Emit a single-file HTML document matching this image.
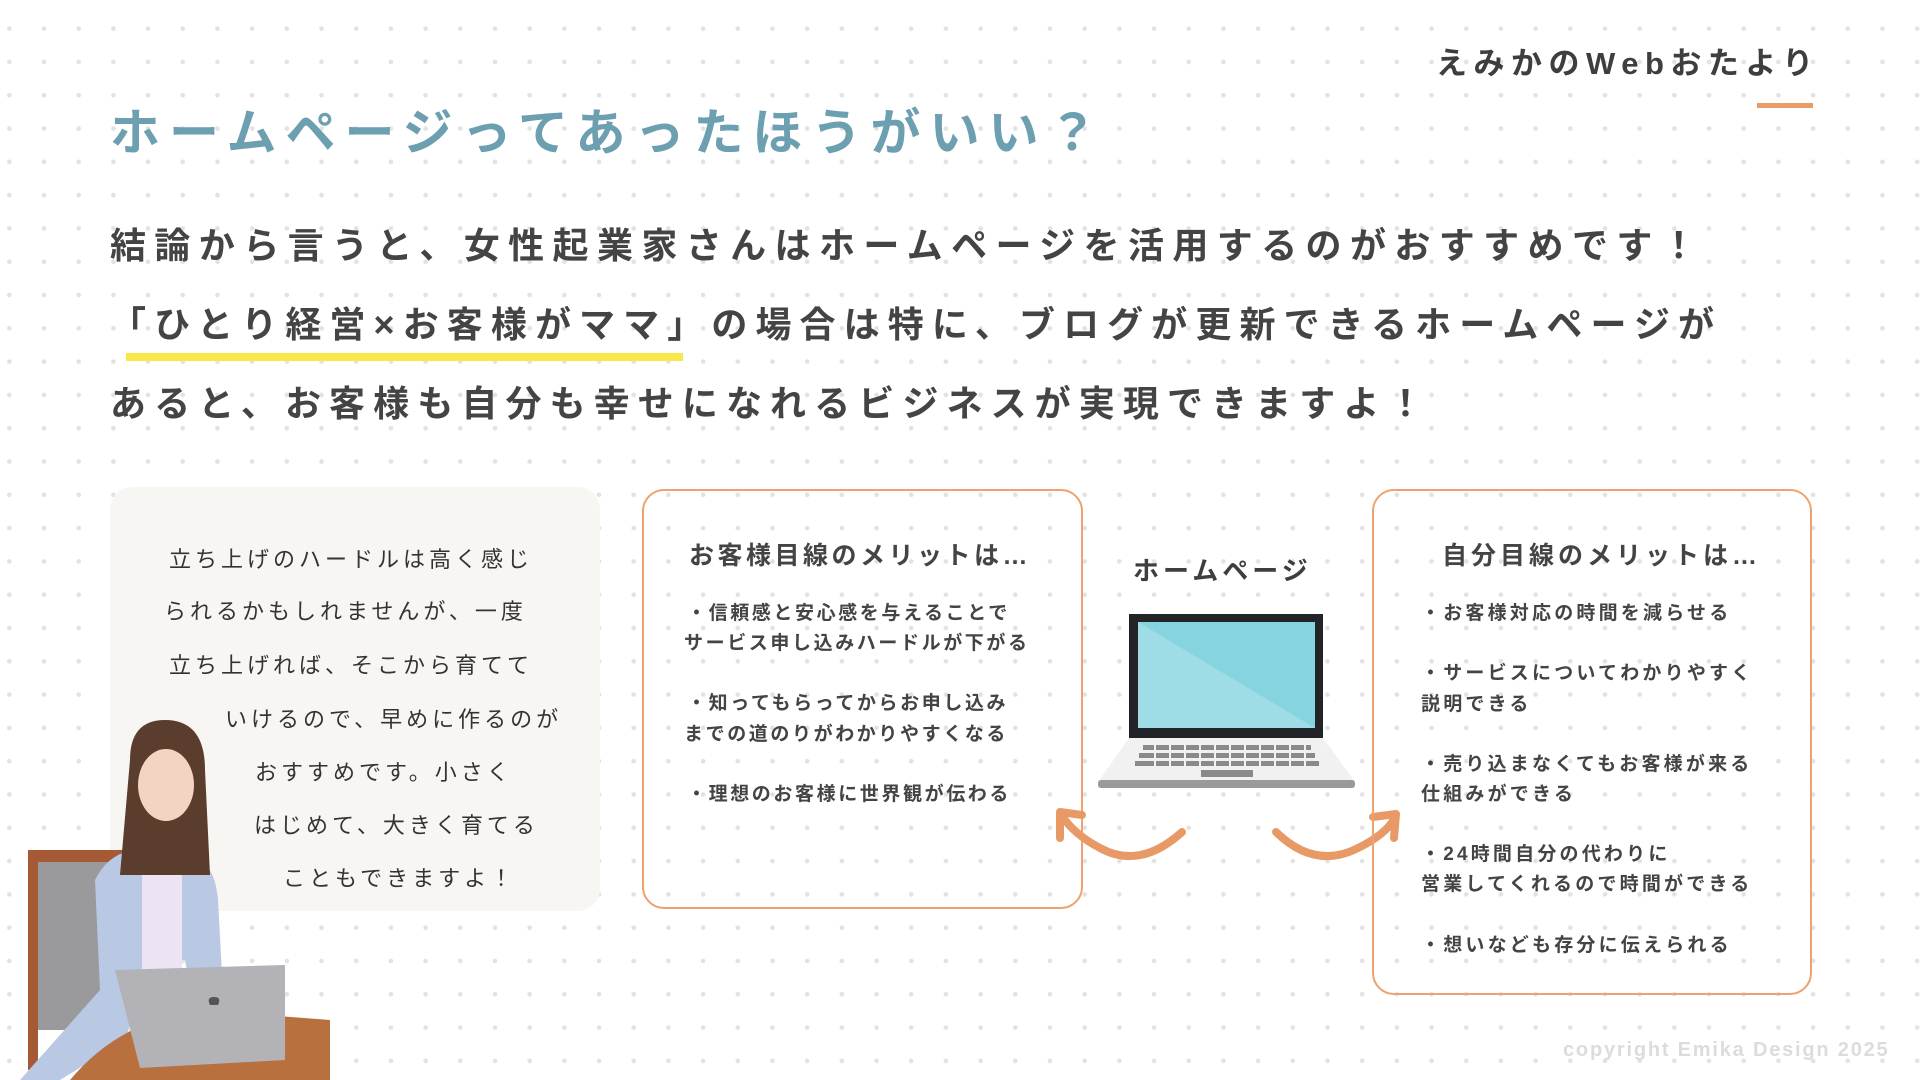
<!DOCTYPE html>
<html><head><meta charset="utf-8">
<style>
html,body{margin:0;padding:0}
body{width:1920px;height:1080px;position:relative;overflow:hidden;background:#fff;
font-family:"Liberation Sans","Noto Sans CJK JP",sans-serif;color:#444;
background-image:radial-gradient(circle,#e2e2e2 2px,transparent 2.6px);
background-size:34.7px 33.3px;background-position:-8px 12px}
.a{position:absolute;white-space:nowrap}
.b{font-weight:700}
</style></head><body>

<div class="a b" style="left:1436px;top:44px;font-size:31px;letter-spacing:6.5px;color:#3e3e3e;line-height:40px">えみかのWebおたより</div>
<div class="a" style="left:1757px;top:103px;width:56px;height:5px;background:#e99b68"></div>

<div class="a b" style="left:110px;top:100px;font-size:50px;letter-spacing:9px;color:#6c9fb0;line-height:66px">ホームページってあったほうがいい？</div>

<div class="a" style="left:126px;top:353px;width:557px;height:8px;background:#f9e84a"></div>
<div class="a b" style="left:110px;top:222px;font-size:36px;letter-spacing:8.4px;line-height:48px">結論から言うと、女性起業家さんはホームページを活用するのがおすすめです！</div>
<div class="a b" style="left:110px;top:301px;font-size:36px;letter-spacing:8.1px;line-height:48px">「ひとり経営×お客様がママ」の場合は特に、ブログが更新できるホームページが</div>
<div class="a b" style="left:110px;top:380px;font-size:36px;letter-spacing:8.1px;line-height:48px">あると、お客様も自分も幸せになれるビジネスが実現できますよ！</div>

<!-- left box -->
<div class="a" style="left:110px;top:487px;width:490px;height:424px;background:#f8f6f3;border-radius:22px"></div>
<div style="font-size:22px;letter-spacing:4px;color:#333;line-height:30px">
<div class="a" style="left:169px;top:545px">立ち上げのハードルは高く感じ</div>
<div class="a" style="left:164px;top:597px">られるかもしれませんが、一度</div>
<div class="a" style="left:169px;top:651px">立ち上げれば、そこから育てて</div>
<div class="a" style="left:225px;top:705px">いけるので、早めに作るのが</div>
<div class="a" style="left:255px;top:758px">おすすめです。小さく</div>
<div class="a" style="left:254px;top:811px">はじめて、大きく育てる</div>
<div class="a" style="left:283px;top:864px">こともできますよ！</div>
</div>

<!-- person illustration -->
<svg class="a" style="left:0;top:700px" width="340" height="380" viewBox="0 0 340 380">
<rect x="30" y="160" width="90" height="170" rx="10" fill="#9a9a9c"/>
<rect x="28" y="150" width="110" height="12" fill="#a55a35"/>
<rect x="28" y="150" width="10" height="220" fill="#a55a35"/>
<path d="M120 380 L130 230 L175 235 L200 380Z" fill="#e7e5f3"/>
<path d="M95 180 Q110 150 140 150 L185 150 Q215 160 218 200 L225 330 L200 340 L185 260 L150 260 L125 340 L60 380 L20 380 L100 290Z" fill="#b9c9e4"/>
<rect x="142" y="160" width="40" height="110" fill="#ece3f4"/>
<path d="M130 60 Q130 20 165 20 Q205 20 205 70 L210 175 L120 175Z" fill="#5b3d2e"/>
<ellipse cx="166" cy="85" rx="28" ry="36" fill="#f3d4c2"/>
<path d="M70 380 Q120 320 200 310 L330 320 L330 380Z" fill="#b9703f"/>
<path d="M115 270 L285 265 L285 360 L140 368Z" fill="#b3b2b7"/>
<path d="M210 305 q-4 -8 4 -8 q8 0 4 8z" fill="#555"/>
</svg>

<!-- middle box -->
<div class="a" style="left:642px;top:489px;width:437px;height:416px;border:2px solid #eda270;border-radius:22px"></div>
<div class="a b" style="left:689px;top:540px;font-size:25px;letter-spacing:3.5px;line-height:32px">お客様目線のメリットは…</div>
<div class="b" style="font-size:19px;letter-spacing:2.6px;line-height:26px">
<div class="a" style="left:687px;top:601px">・信頼感と安心感を与えることで</div>
<div class="a" style="left:684px;top:631px">サービス申し込みハードルが下がる</div>
<div class="a" style="left:687px;top:691px">・知ってもらってからお申し込み</div>
<div class="a" style="left:684px;top:722px">までの道のりがわかりやすくなる</div>
<div class="a" style="left:687px;top:782px">・理想のお客様に世界観が伝わる</div>
</div>

<!-- center -->
<div class="a b" style="left:1133px;top:555px;font-size:26px;letter-spacing:4px;line-height:32px;color:#3e3e3e">ホームページ</div>
<svg class="a" style="left:1095px;top:610px" width="270" height="180" viewBox="0 0 270 180">
<rect x="34" y="4" width="194" height="124" fill="#232428"/>
<rect x="43" y="12" width="177" height="106" fill="#85d4e0"/>
<path d="M43 12 L220 118 L43 118Z" fill="#9fdde6"/>
<path d="M34 128 L228 128 L260 172 L3 172Z" fill="#f1f1f1"/>
<rect x="3" y="170" width="257" height="8" rx="3" fill="#9a9a9a"/>
<g fill="#8a8a8a">
<rect x="48" y="135" width="168" height="5"/>
<rect x="44" y="143" width="176" height="5"/>
<rect x="40" y="151" width="184" height="5"/>
<rect x="106" y="160" width="52" height="7"/>
</g>
<g stroke="#f1f1f1" stroke-width="2">
<path d="M60 134V158M75 134V158M90 134V158M105 134V158M120 134V158M135 134V158M150 134V158M165 134V158M180 134V158M195 134V158M210 134V158"/>
</g>
</svg>

<svg class="a" style="left:1040px;top:790px" width="380" height="80" viewBox="0 0 380 80">
<g fill="none" stroke="#e89a66" stroke-width="8" stroke-linecap="round" stroke-linejoin="round">
<path d="M142 42 Q100 80 60 58 Q35 45 22 26"/>
<path d="M20 48 L20 22 L42 25"/>
<path d="M236 42 Q275 80 318 58 Q345 45 355 28"/>
<path d="M333 27 L356 24 L354 48"/>
</g>
</svg>

<!-- right box -->
<div class="a" style="left:1372px;top:489px;width:436px;height:502px;border:2px solid #eda270;border-radius:22px"></div>
<div class="a b" style="left:1442px;top:540px;font-size:25px;letter-spacing:4px;line-height:32px">自分目線のメリットは…</div>
<div class="b" style="font-size:19px;letter-spacing:3.2px;line-height:26px">
<div class="a" style="left:1421px;top:601px">・お客様対応の時間を減らせる</div>
<div class="a" style="left:1421px;top:661px">・サービスについてわかりやすく</div>
<div class="a" style="left:1421px;top:692px">説明できる</div>
<div class="a" style="left:1421px;top:752px">・売り込まなくてもお客様が来る</div>
<div class="a" style="left:1421px;top:782px">仕組みができる</div>
<div class="a" style="left:1421px;top:842px">・24時間自分の代わりに</div>
<div class="a" style="left:1421px;top:872px">営業してくれるので時間ができる</div>
<div class="a" style="left:1421px;top:933px">・想いなども存分に伝えられる</div>
</div>

<div class="a b" style="left:1563px;top:1036px;font-size:20px;letter-spacing:1.8px;color:#dcdcdc;line-height:28px">copyright Emika Design 2025</div>
</body></html>
